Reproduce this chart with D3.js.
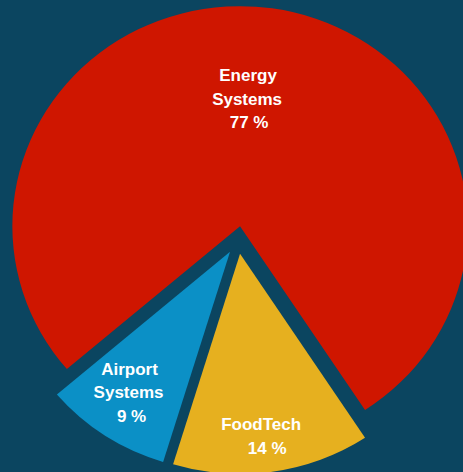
<!DOCTYPE html>
<html>
<head>
<meta charset="utf-8">
<script src="https://cdn.jsdelivr.net/npm/d3@7"></script>
<style>
  html, body { margin: 0; padding: 0; background: #0b4560; }
  svg { display: block; }
</style>
</head>
<body>
<svg id="chart" width="463" height="472"></svg>
<script>
// Segment shares (percent)
const categories = ["Energy Systems", "FoodTech", "Airport Systems"];
const shares = [77, 14, 9];
const labelLines = [["Energy", "Systems", "77 %"], ["FoodTech", "14 %"], ["Airport", "Systems", "9 %"]];
const colors = ["#cf1600", "#e6b01f", "#0b90c6"];

const width = 463, height = 472;
const cx = 238, cy = 240;
const radius = 220;
const stretchX = 1.035;       // slightly wider than tall
const explode = 14;           // every slice is pulled out from the centre
const startDeg = 229.5;

// Label placement: distance along the slice (fraction of radius), angle nudge (deg),
// and a per-line horizontal nudge
const labelFrac = [0.58, 0.834, 0.777];
const labelTurn = [-4.6, 0.8, 1.3];
const lineShift = [[0, -1, 1], [-3, 3], [0, -1, 2]];

const svg = d3.select("#chart");
svg.append("rect").attr("width", width).attr("height", height).attr("fill", "#0b4560");

const pie = d3.pie().sort(null).value(d => d)
  .startAngle(startDeg * Math.PI / 180)
  .endAngle(startDeg * Math.PI / 180 + 2 * Math.PI);
const arcs = pie(shares);
const arc = d3.arc().innerRadius(0).outerRadius(radius);

const root = svg.append("g").attr("transform", `translate(${cx},${cy}) scale(${stretchX},1)`);

function polar(angle, dist) {
  return [Math.sin(angle) * dist, -Math.cos(angle) * dist];
}
const midAngle = d => (d.startAngle + d.endAngle) / 2;

root.selectAll("path.slice")
  .data(arcs)
  .join("path")
  .attr("class", "slice")
  .attr("d", arc)
  .attr("fill", (d, i) => colors[i])
  .attr("transform", d => {
    const [dx, dy] = polar(midAngle(d), explode);
    return `translate(${dx},${dy})`;
  });

// Labels, roughly on each slice's bisector
const labels = svg.append("g")
  .attr("font-family", "'Liberation Sans', Arial, sans-serif")
  .attr("font-weight", "bold")
  .attr("font-size", 17)
  .attr("fill", "#ffffff")
  .attr("text-anchor", "middle");

arcs.forEach((d, i) => {
  const [ex, ey] = polar(midAngle(d), explode);
  const [lx, ly] = polar(midAngle(d) + labelTurn[i] * Math.PI / 180, radius * labelFrac[i]);
  const x = cx + (ex + lx) * stretchX;
  const y = cy + ey + ly;
  const lines = labelLines[i];
  const lh = 23.5;
  const t = labels.append("text").attr("y", y - (lines.length - 1) * lh / 2 + 6);
  lines.forEach((s, j) => {
    t.append("tspan").attr("x", x + lineShift[i][j]).attr("dy", j === 0 ? 0 : lh).text(s);
  });
});
</script>
</body>
</html>
